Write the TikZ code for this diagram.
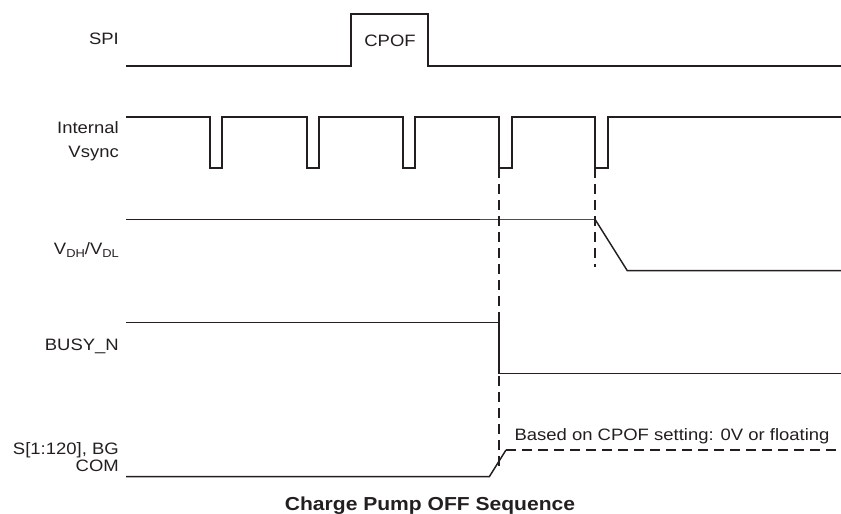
\documentclass[tikz,border=0pt]{standalone}
\usepackage{fontspec}
\setmainfont{Liberation Sans}[FakeStretch=1.12]
\begin{document}
\begin{tikzpicture}[x=1pt,y=-1pt,
  sig/.style={line width=1.45pt,draw=ink},
  thinsig/.style={line width=1pt,draw=ink!80},
  dsh/.style={line width=1.45pt,draw=ink,dash pattern=on 10pt off 6pt},
  lbl/.style={anchor=base east,inner sep=0pt,text=ink,font=\fontsize{16.5}{18}\selectfont},
  txt/.style={inner sep=0pt,text=ink,font=\fontsize{16.5}{18}\selectfont}]
\definecolor{ink}{HTML}{231F20}
\useasboundingbox (0,0) rectangle (841,514);
% labels
\node[lbl] (lspi) at (119,44.3) {SPI};
\node[lbl] (lint) at (119,133.3) {Internal};
\node[lbl] (lvs) at (119,157.3) {Vsync};
\node[lbl] (lvdh) at (119,254.5) {V\raisebox{-0.35ex}{\fontsize{11.5}{12}\selectfont DH}/V\raisebox{-0.35ex}{\fontsize{11.5}{12}\selectfont DL}};
\node[lbl] (lbusy) at (119,350) {BUSY\_N};
\node[lbl] (ls) at (119,454.5) {S[1:120], BG};
\node[lbl] (lcom) at (119,471.7) {COM};
% SPI
\draw[sig] (126,66) -- (351,66) -- (351,14) -- (428,14) -- (428,66) -- (841,66);
\node[txt,anchor=base] (cpof) at (390,46.7) {CPOF};
% Vsync
\draw[sig] (126,117) -- (210,117) -- (210,168) -- (222,168) -- (222,117)
  -- (307,117) -- (307,168) -- (319,168) -- (319,117)
  -- (403,117) -- (403,168) -- (415,168) -- (415,117)
  -- (499,117) -- (499,168) -- (512,168) -- (512,117)
  -- (595,117) -- (595,168) -- (608,168) -- (608,117) -- (841,117);
% VDH/VDL
\draw[sig] (126,219.3) -- (480,219.3);
\draw[thinsig] (480,219.3) -- (595,219.3);
\draw[sig] (595,219.3) -- (627.3,270.7) -- (841,270.7);
% BUSY_N
\draw[sig] (126,322.3) -- (499,322.3) -- (499,373.3) -- (841,373.3);
% S / COM
\draw[sig] (126,476.7) -- (489.3,476.7) -- (506,450);
\draw[dsh] (506,450) -- (841,450);
\node[txt,anchor=base west] (based) at (514.3,440) {Based on CPOF setting: 0V or floating};
% dashed markers
\draw[dsh] (499,168) -- (499,472);
\draw[dsh] (595,168) -- (595,267);
% title
\node[txt,anchor=base,font=\bfseries\fontsize{18.8}{21}\selectfont] (title) at (430,510) {Charge Pump OFF Sequence};
\end{tikzpicture}
\end{document}
